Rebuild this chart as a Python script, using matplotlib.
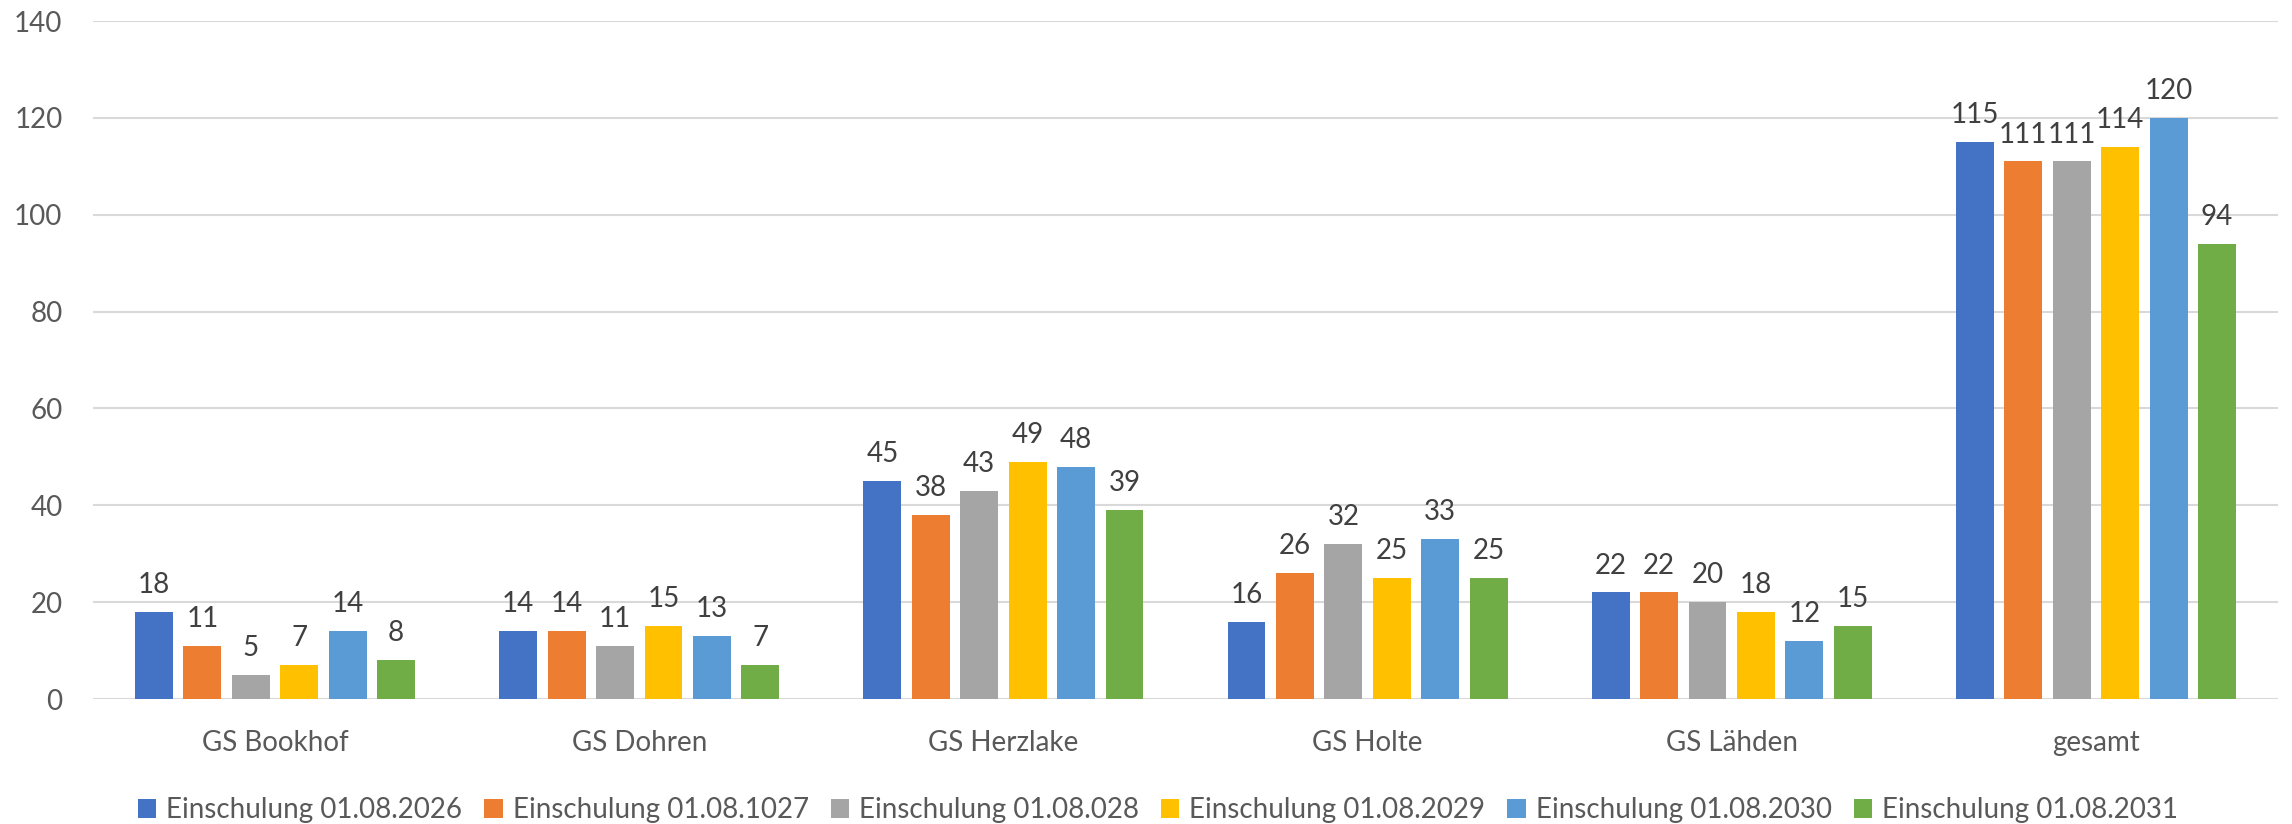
import numpy as np
import matplotlib
matplotlib.use('Agg')
import matplotlib.pyplot as plt

plt.rcParams['font.family'] = ['Lato', 'DejaVu Sans']

schools = ['GS Bookhof', 'GS Dohren', 'GS Herzlake', 'GS Holte', 'GS Lähden', 'gesamt']

series_names = ['Einschulung 01.08.2026', 'Einschulung 01.08.1027', 'Einschulung 01.08.028',
                'Einschulung 01.08.2029', 'Einschulung 01.08.2030', 'Einschulung 01.08.2031']

# one list per enrolment year, order follows schools
y2026 = [18, 14, 45, 16, 22, 115]
y2027 = [11, 14, 38, 26, 22, 111]
y2028 = [5, 11, 43, 32, 20, 111]
y2029 = [7, 15, 49, 25, 18, 114]
y2030 = [14, 13, 48, 33, 12, 120]
y2031 = [8, 7, 39, 25, 15, 94]

colors = ['#4472C4', '#ED7D31', '#A5A5A5', '#FFC000', '#5B9BD5', '#70AD47']

fig = plt.figure(figsize=(22.92, 8.24), dpi=100)
ax = fig.add_axes([93/2292, 1-699/824, (2278-93)/2292, (699-21)/824])

x = np.arange(len(schools))
pitch = 0.133  # distance between bars in a group
width = 0.104

for i, vals in enumerate([y2026, y2027, y2028, y2029, y2030, y2031]):
    bars = ax.bar(x + (i - 2.5)*pitch, vals, width, color=colors[i], label=series_names[i], zorder=3)
    ax.bar_label(bars, padding=10, fontsize=20, color='#404040')

ax.set_xlim(-0.5, len(schools) - 0.5)
ax.set_ylim(0, 140)
ax.set_yticks(range(0, 141, 20))
ax.set_xticks(x)
ax.set_xticklabels(schools)
ax.tick_params(axis='both', length=0, labelsize=20, colors='#595959')
ax.tick_params(axis='y', pad=22)
ax.tick_params(axis='x', pad=22)
ax.grid(axis='y', color='#D9D9D9', linewidth=1.5, zorder=0)
for s in ax.spines.values():
    s.set_visible(False)

fig.legend(loc='center', bbox_to_anchor=(1158/2292, 1-810/824), ncol=6, frameon=False,
           fontsize=20, labelcolor='#595959', handlelength=0.65, handleheight=0.65,
           handletextpad=0.36, columnspacing=0.8)

fig.savefig('out.png', dpi=100)
